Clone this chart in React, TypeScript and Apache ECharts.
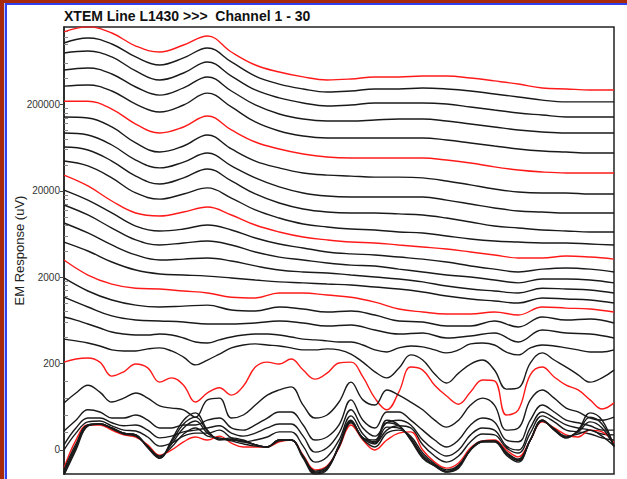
import React, { useEffect, useRef } from "react";
import * as echarts from "echarts";

const TITLE = "XTEM Line L1430 >>>  Channel 1 - 30";
const Y_NAME = "EM Response (uV)";
const TICK_VALUES = [0, 200, 2000, 20000, 200000];
const TICK_LABELS = ["0", "200", "2000", "20000", "200000"];
const MINOR_TICKS = [
  40, 80, 120, 160,
  400, 600, 800, 1000, 1200, 1400, 1600, 1800,
  4000, 6000, 8000, 10000, 12000, 14000, 16000, 18000,
  40000, 60000, 80000, 100000, 120000, 140000, 160000, 180000,
  400000, 600000, 800000, 1000000, 1200000, 1400000,
];

// sample positions along the line (station index)
const X_COARSE = [0, 2, 4, 6, 8, 10, 12, 14, 16, 18, 20, 22, 24, 26, 28, 30, 32, 34, 36, 38, 40, 42, 44, 46];
const X_FINE = [0, 1, 2, 3, 4, 5, 6, 7, 8, 9, 10, 11, 12, 13, 14, 15, 16, 17, 18, 19, 20, 21, 22, 23, 24, 25, 26, 27, 28, 29, 30, 31, 32, 33, 34, 35, 36, 37, 38, 39, 40, 41, 42, 43, 44, 45, 46];

// EM response (uV) per channel
const ch01 = [1380000, 1578000, 1342000, 948000, 808000, 974000, 1238000, 808000, 572000, 474000, 416000, 384000, 394000, 416000, 416000, 426000, 426000, 404000, 374000, 344000, 310000, 302000, 294000, 294000];
const ch02 = [1028000, 1174000, 1000000, 708000, 572000, 690000, 900000, 620000, 426000, 344000, 302000, 278000, 286000, 302000, 302000, 310000, 302000, 286000, 264000, 244000, 224000, 214000, 214000, 214000];
const ch03 = [788000, 830000, 708000, 488000, 384000, 462000, 620000, 426000, 294000, 238000, 208000, 191800, 197000, 208000, 208000, 208000, 202000, 186800, 172200, 159200, 150800, 143000, 143000, 143000];
const ch04 = [500000, 528000, 450000, 318000, 256000, 310000, 416000, 286000, 197000, 155000, 135600, 128600, 128600, 132000, 135600, 135600, 128600, 118600, 109600, 101200, 96000, 93400, 93400, 93400];
const ch05 = [326000, 336000, 286000, 202000, 163600, 197000, 270000, 186800, 125200, 98400, 86200, 81800, 81800, 81800, 81800, 81800, 77400, 71600, 66000, 61000, 57800, 56200, 54800, 54800];
const ch06 = [218000, 218000, 176800, 118600, 93400, 109600, 146800, 101200, 73400, 61000, 53400, 49200, 48000, 48000, 48000, 48000, 45400, 42000, 37800, 34800, 33000, 32200, 32200, 32200];
const ch07 = [143000, 139200, 109600, 71600, 56200, 66000, 88600, 61000, 44200, 36800, 32200, 30400, 29600, 28800, 28800, 28200, 26000, 23400, 21000, 19380, 18880, 18880, 18380, 18380];
const ch08 = [93400, 88600, 67800, 45400, 36800, 43000, 54800, 38800, 28200, 22200, 18880, 17400, 16960, 16960, 16960, 16960, 15600, 14080, 12660, 11680, 11380, 11080, 11080, 11080];
const ch09 = [64200, 59400, 44200, 29600, 24000, 28200, 35800, 26000, 18380, 14460, 12320, 11380, 11080, 11080, 10800, 10500, 9680, 8720, 7820, 7420, 7040, 6860, 6680, 6680];
const ch10 = [44200, 38800, 28200, 18880, 16040, 18380, 21600, 16500, 12000, 9680, 8260, 7620, 7220, 7040, 6680, 6500, 6000, 5540, 5240, 5100, 4980, 4980, 4840, 4720];
const ch11 = [30400, 22800, 15240, 11080, 10220, 11380, 12980, 10500, 8040, 6680, 5840, 5400, 5100, 4980, 4720, 4480, 4240, 3920, 3620, 3340, 3340, 3520, 3420, 3240];
const ch12 = [20400, 15600, 11080, 7820, 6860, 7220, 8040, 7040, 5680, 4840, 4360, 3920, 3720, 3620, 3420, 3240, 3000, 2700, 2480, 2300, 2480, 2560, 2480, 2300];
const ch13 = [13700, 10500, 7420, 5400, 4720, 4980, 5240, 4720, 3920, 3420, 3160, 2920, 2760, 2700, 2480, 2300, 2120, 2010, 1856, 1720, 1906, 1906, 1856, 1720];
const ch14 = [8480, 6500, 4720, 3620, 3160, 3240, 3340, 3080, 2700, 2420, 2300, 2240, 2120, 2010, 1906, 1766, 1580, 1460, 1384, 1314, 1492, 1460, 1422, 1314];
const ch15 = [5100, 4020, 3000, 2420, 2180, 2120, 2060, 1960, 1856, 1766, 1720, 1666, 1622, 1538, 1460, 1348, 1212, 1120, 1060, 1006, 1150, 1120, 1088, 1006];
const ch16 = [3160, 2120, 1666, 1492, 1460, 1384, 1314, 1174, 1150, 1314, 1314, 1242, 1174, 1030, 856, 790, 750, 750, 790, 730, 904, 878, 856, 790];
const ch17 = [1960, 1384, 1088, 950, 904, 926, 950, 834, 812, 904, 856, 790, 812, 730, 622, 606, 544, 544, 622, 530, 692, 638, 656, 590];
const ch18 = [1174, 904, 712, 638, 622, 606, 574, 574, 590, 622, 590, 544, 560, 490, 440, 452, 396, 418, 452, 356, 490, 452, 440, 396];
const ch19 = [692, 638, 574, 516, 464, 440, 428, 428, 440, 428, 396, 356, 346, 376, 406, 428, 440, 440, 428, 406, 384, 376, 366, 356, 356, 328, 288, 272, 304, 320, 312, 288, 266, 288, 338, 346, 328, 272, 252, 304, 328, 320, 304, 288, 272, 272, 288];
const ch20 = [384, 366, 346, 320, 288, 280, 280, 296, 304, 280, 238, 197, 220, 258, 304, 328, 338, 328, 320, 304, 288, 288, 296, 288, 258, 208, 181, 167, 189, 252, 220, 176, 155, 178, 199, 220, 185, 141, 144, 203, 266, 220, 192, 174, 157, 167, 185];
const ch21 = [208, 226, 232, 208, 171, 181, 199, 190, 157, 167, 150, 111, 132, 144, 127, 148, 192, 208, 199, 226, 185, 164, 178, 203, 208, 169, 120, 93, 134, 192, 185, 150, 125, 106, 134, 162, 160, 81, 93, 174, 192, 169, 150, 139, 116, 95, 109];
const ch22 = [109, 132, 150, 134, 111, 120, 132, 120, 102, 97, 93, 76, 116, 120, 74, 81, 104, 127, 139, 146, 104, 74, 81, 111, 157, 116, 104, 139, 127, 111, 93, 69, 53, 69, 104, 120, 104, 46, 51, 116, 139, 120, 97, 88, 74, 69, 76];
const ch23 = [44, 69, 93, 88, 74, 74, 81, 69, 51, 51, 58, 58, 69, 74, 51, 46, 58, 74, 88, 88, 58, 23, 30, 58, 116, 69, 51, 88, 88, 69, 46, 23, 7, 23, 58, 74, 65, 23, 19, 69, 104, 88, 69, 63, 56, 46, 46];
const ch24 = [12, 51, 74, 74, 63, 56, 58, 46, 28, 32, 42, 46, 51, 56, 39, 32, 39, 51, 60, 60, 32, -5, 5, 39, 93, 51, 32, 63, 69, 58, 23, 0, -14, 0, 35, 51, 46, 9, 0, 51, 88, 74, 58, 51, 46, 37, 35];
const ch25 = [0, 39, 65, 67, 56, 46, 44, 30, 9, 16, 32, 39, 39, 46, 28, 19, 23, 30, 42, 42, 9, -28, -16, 23, 79, 37, 16, 46, 56, 51, 12, -14, -28, -14, 19, 37, 35, 5, -7, 39, 79, 65, 46, 42, 37, 28, 23];
const ch26 = [-42, 23, 58, 58, 46, 35, 30, 12, -12, 0, 19, 30, 23, 32, 16, 7, 7, 7, 19, 23, -12, -46, -37, 5, 58, 23, 0, 23, 39, 42, 0, -28, -42, -30, 5, 21, 23, 0, -16, 23, 65, 51, 35, 30, 46, 42, 16];
const ch27 = [-46, 14, 58, 60, 49, 37, 32, 9, -14, 7, 37, 51, 32, 28, 21, 14, 9, 7, 21, 23, -14, -49, -39, 7, 63, 25, 7, 39, 46, 32, -7, -32, -46, -35, 2, 21, 21, -5, -21, 23, 67, 49, 32, 37, 46, 32, 9];
const ch28 = [-51, 9, 58, 60, 51, 39, 35, 7, -16, 14, 51, 67, 39, 25, 23, 19, 12, 7, 23, 23, -16, -51, -42, 9, 65, 28, 14, 53, 51, 28, -12, -35, -49, -37, 0, 19, 21, -7, -23, 23, 69, 49, 30, 42, 65, 51, 9];
const ch29 = [-56, 5, 56, 60, 51, 39, 35, 7, -19, 19, 60, 76, 44, 25, 25, 21, 12, 7, 23, 23, -16, -53, -44, 9, 67, 28, 19, 63, 56, 25, -16, -37, -51, -39, 0, 19, 19, -9, -25, 23, 69, 46, 28, 44, 76, 60, 9];
const ch30 = [-58, 0, 56, 60, 51, 39, 35, 5, -19, 23, 69, 86, 46, 23, 28, 23, 12, 7, 23, 23, -19, -56, -46, 12, 69, 28, 23, 69, 58, 23, -19, -37, -51, -42, 0, 19, 19, -12, -28, 23, 69, 46, 28, 46, 86, 69, 7];

const CHANNELS: { name: string; x: number[]; v: number[] }[] = [
  { name: "Ch 1", x: X_COARSE, v: ch01 },
  { name: "Ch 2", x: X_COARSE, v: ch02 },
  { name: "Ch 3", x: X_COARSE, v: ch03 },
  { name: "Ch 4", x: X_COARSE, v: ch04 },
  { name: "Ch 5", x: X_COARSE, v: ch05 },
  { name: "Ch 6", x: X_COARSE, v: ch06 },
  { name: "Ch 7", x: X_COARSE, v: ch07 },
  { name: "Ch 8", x: X_COARSE, v: ch08 },
  { name: "Ch 9", x: X_COARSE, v: ch09 },
  { name: "Ch 10", x: X_COARSE, v: ch10 },
  { name: "Ch 11", x: X_COARSE, v: ch11 },
  { name: "Ch 12", x: X_COARSE, v: ch12 },
  { name: "Ch 13", x: X_COARSE, v: ch13 },
  { name: "Ch 14", x: X_COARSE, v: ch14 },
  { name: "Ch 15", x: X_COARSE, v: ch15 },
  { name: "Ch 16", x: X_COARSE, v: ch16 },
  { name: "Ch 17", x: X_COARSE, v: ch17 },
  { name: "Ch 18", x: X_COARSE, v: ch18 },
  { name: "Ch 19", x: X_FINE, v: ch19 },
  { name: "Ch 20", x: X_FINE, v: ch20 },
  { name: "Ch 21", x: X_FINE, v: ch21 },
  { name: "Ch 22", x: X_FINE, v: ch22 },
  { name: "Ch 23", x: X_FINE, v: ch23 },
  { name: "Ch 24", x: X_FINE, v: ch24 },
  { name: "Ch 25", x: X_FINE, v: ch25 },
  { name: "Ch 26", x: X_FINE, v: ch26 },
  { name: "Ch 27", x: X_FINE, v: ch27 },
  { name: "Ch 28", x: X_FINE, v: ch28 },
  { name: "Ch 29", x: X_FINE, v: ch29 },
  { name: "Ch 30", x: X_FINE, v: ch30 },
];
const RED_CHANNELS = [1, 6, 11, 16, 21, 26];

// log-linear axis: linear below 200 uV, logarithmic above
const LIN_LIMIT = 200;
function toAxis(v: number): number {
  return v <= LIN_LIMIT ? v / LIN_LIMIT : 1 + Math.log10(v / LIN_LIMIT);
}
const AXIS_MIN = -0.278;
const AXIS_MAX = 4.896;
const FONT = "'Liberation Sans', Arial, sans-serif";

export default function App() {
  const ref = useRef<HTMLDivElement>(null);
  useEffect(() => {
    if (!ref.current) return;
    const chart = echarts.init(ref.current, undefined, { renderer: "svg" });
    const majorT = TICK_VALUES.map(toAxis);
    const minorT = MINOR_TICKS.map(toAxis);
    const series = CHANNELS.map((c, i) => ({
      name: c.name,
      type: "line",
      smooth: 0.4,
      symbol: "none",
      silent: true,
      xAxisIndex: 0,
      yAxisIndex: 0,
      lineStyle: {
        width: 1.4,
        color: RED_CHANNELS.includes(i + 1) ? "#ff1a1a" : "#1a1a1a",
      },
      data: c.v.map((v, k) => [c.x[k], toAxis(v)]),
    }));
    chart.setOption({
      animation: false,
      backgroundColor: "#ffffff",
      title: {
        text: TITLE,
        left: 59,
        top: 4,
        textStyle: {
          fontFamily: FONT,
          fontWeight: "bold",
          fontSize: 14,
          color: "#111",
        },
      },
      graphic: [
        { type: "rect", shape: { x: 0, y: 0, width: 4, height: 479 }, style: { fill: "#a82a0c" }, silent: true },
        { type: "rect", shape: { x: 0, y: 0, width: 627, height: 3 }, style: { fill: "#a82a0c" }, silent: true },
        { type: "rect", shape: { x: 4, y: 3, width: 1, height: 476 }, style: { fill: "#b8c0f8" }, silent: true },
        { type: "rect", shape: { x: 5, y: 3, width: 2, height: 476 }, style: { fill: "#3040ee" }, silent: true },
        { type: "rect", shape: { x: 5, y: 3, width: 622, height: 2 }, style: { fill: "#3040ee" }, silent: true },
      ],
      grid: {
        left: 64,
        right: 13,
        top: 27,
        bottom: 5,
        show: true,
        containLabel: false,
        outerBoundsMode: "none",
        borderColor: "#222",
        borderWidth: 1.5,
        backgroundColor: "#ffffff",
      },
      xAxis: { type: "value", min: 0, max: 46, show: false },
      yAxis: [
        {
          type: "value",
          min: AXIS_MIN,
          max: AXIS_MAX,
          name: Y_NAME,
          nameLocation: "middle",
          nameGap: 38,
          nameMoveOverlap: false,
          nameTextStyle: { fontFamily: FONT, fontSize: 13, color: "#222" },
          axisLine: { show: true, lineStyle: { color: "#222", width: 1.5 } },
          axisTick: { show: true, inside: false, length: 4, customValues: majorT, lineStyle: { color: "#444" } },
          axisLabel: {
            show: true,
            customValues: majorT,
            margin: 4,
            fontFamily: FONT,
            fontSize: 10,
            color: "#333",
            formatter: (val: number) => {
              const idx = majorT.findIndex((t) => Math.abs(t - val) < 1e-6);
              return idx >= 0 ? TICK_LABELS[idx] : "";
            },
          },
          splitLine: { show: false },
        },
        {
          type: "value",
          min: AXIS_MIN,
          max: AXIS_MAX,
          position: "left",
          offset: 0,
          axisLine: { show: false },
          axisLabel: { show: false },
          splitLine: { show: false },
          axisTick: { show: true, inside: true, length: 4, customValues: minorT, lineStyle: { color: "#888" } },
        },
      ],
      series,
    });
    return () => chart.dispose();
  }, []);
  return (
    <div
      ref={ref}
      style={{ position: "fixed", left: 0, top: 0, width: 627, height: 479, background: "#fff" }}
    />
  );
}
